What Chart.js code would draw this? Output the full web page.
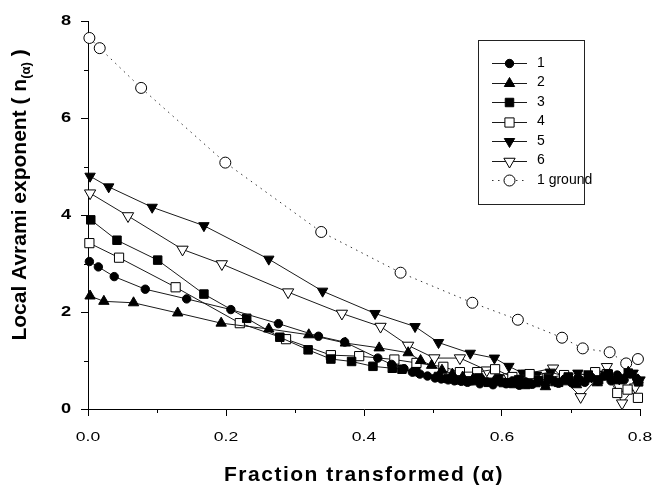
<!DOCTYPE html>
<html>
<head>
<meta charset="utf-8">
<script src="https://cdn.jsdelivr.net/npm/chart.js@4.4.1/dist/chart.umd.min.js"></script>
<style>
    html, body { margin: 0; padding: 0; background: #fff; }
    #wrap { width: 656px; height: 491px; }
</style>
</head>
<body>
<div id="wrap"><canvas id="myChart" width="656" height="491"></canvas></div>
<script>
// Series names (legend order)
const seriesNames = ["1", "2", "3", "4", "5", "6", "1 ground"];

// Fraction transformed (alpha) and local Avrami exponent n(alpha) per series
const alpha1 = [0.002, 0.015, 0.038, 0.083, 0.143, 0.207, 0.276, 0.334, 0.372, 0.420, 0.440, 0.458, 0.470, 0.481, 0.492, 0.503, 0.512, 0.522, 0.531, 0.541, 0.550, 0.559, 0.568, 0.578, 0.587, 0.596, 0.606, 0.615, 0.625, 0.634, 0.644, 0.653, 0.663, 0.672, 0.682, 0.691, 0.701, 0.710, 0.720, 0.729, 0.739, 0.748, 0.758, 0.767, 0.777, 0.786, 0.795];
const n1 = [3.04, 2.93, 2.73, 2.47, 2.27, 2.05, 1.76, 1.50, 1.38, 1.05, 0.92, 0.83, 0.76, 0.72, 0.68, 0.64, 0.62, 0.60, 0.58, 0.57, 0.55, 0.58, 0.52, 0.56, 0.50, 0.57, 0.52, 0.58, 0.49, 0.56, 0.51, 0.58, 0.50, 0.60, 0.53, 0.62, 0.54, 0.64, 0.55, 0.66, 0.57, 0.68, 0.58, 0.70, 0.60, 0.72, 0.63];

const alpha2 = [0.003, 0.023, 0.066, 0.130, 0.193, 0.262, 0.320, 0.373, 0.422, 0.464, 0.482, 0.498, 0.513, 0.528, 0.543, 0.558, 0.573, 0.588, 0.603, 0.618, 0.633, 0.648, 0.663, 0.678, 0.693, 0.708, 0.723, 0.738, 0.753, 0.768, 0.783, 0.797];
const n2 = [2.33, 2.22, 2.19, 1.98, 1.77, 1.65, 1.53, 1.36, 1.26, 1.16, 1.00, 0.90, 0.80, 0.72, 0.66, 0.62, 0.58, 0.56, 0.52, 0.50, 0.48, 0.52, 0.46, 0.54, 0.56, 0.50, 0.62, 0.54, 0.66, 0.58, 0.76, 0.60];

const alpha3 = [0.004, 0.042, 0.101, 0.168, 0.230, 0.278, 0.319, 0.352, 0.382, 0.413, 0.441, 0.455, 0.475, 0.508, 0.522, 0.537, 0.551, 0.566, 0.580, 0.595, 0.609, 0.624, 0.638, 0.653, 0.667, 0.682, 0.696, 0.711, 0.725, 0.740, 0.754, 0.769, 0.783, 0.798];
const n3 = [3.90, 3.48, 3.07, 2.37, 1.87, 1.48, 1.22, 1.03, 0.98, 0.88, 0.84, 0.82, 0.77, 0.67, 0.63, 0.60, 0.58, 0.64, 0.55, 0.62, 0.54, 0.60, 0.52, 0.58, 0.63, 0.55, 0.66, 0.58, 0.70, 0.60, 0.72, 0.62, 0.74, 0.56];

const alpha4 = [0.002, 0.045, 0.127, 0.220, 0.287, 0.352, 0.393, 0.444, 0.476, 0.515, 0.539, 0.564, 0.590, 0.615, 0.640, 0.665, 0.690, 0.715, 0.735, 0.752, 0.767, 0.782, 0.797];
const n4 = [3.42, 3.12, 2.51, 1.77, 1.44, 1.11, 1.09, 1.02, 0.95, 0.87, 0.76, 0.76, 0.82, 0.66, 0.72, 0.64, 0.70, 0.62, 0.76, 0.72, 0.33, 0.40, 0.23];

const alpha5 = [0.003, 0.030, 0.093, 0.168, 0.262, 0.340, 0.416, 0.474, 0.508, 0.554, 0.589, 0.610, 0.630, 0.650, 0.670, 0.690, 0.710, 0.730, 0.750, 0.770, 0.790, 0.800];
const n5 = [4.80, 4.58, 4.16, 3.78, 3.09, 2.43, 1.97, 1.70, 1.37, 1.15, 1.05, 0.88, 0.74, 0.70, 0.76, 0.68, 0.74, 0.66, 0.72, 0.62, 0.74, 0.60];

const alpha6 = [0.003, 0.058, 0.137, 0.194, 0.290, 0.368, 0.424, 0.464, 0.502, 0.539, 0.578, 0.610, 0.636, 0.674, 0.714, 0.752, 0.774, 0.793];
const n6 = [4.45, 3.98, 3.29, 2.99, 2.41, 1.97, 1.70, 1.31, 1.05, 1.05, 0.80, 0.66, 0.73, 0.84, 0.25, 0.87, 0.12, 0.45];

const alphaGround = [0.002, 0.017, 0.077, 0.199, 0.338, 0.453, 0.557, 0.623, 0.687, 0.717, 0.756, 0.780, 0.797];
const nGround = [7.65, 7.44, 6.62, 5.08, 3.65, 2.81, 2.19, 1.84, 1.47, 1.25, 1.17, 0.94, 1.03];

// Axis ranges and tick labels
const xRange = [0, 0.8];
const yRange = [0, 8];
const xTickLabels = ["0.0", "0.2", "0.4", "0.6", "0.8"];
const yTickLabels = ["0", "2", "4", "6", "8"];

// Marker look for each series
const markers = [
    { style: "circle",   radius: 4.2, rotation: 0,   fill: "#000", dash: [] },
    { style: "triangle", radius: 6,   rotation: 0,   fill: "#000", dash: [] },
    { style: "rect",     radius: 6,   rotation: 0,   fill: "#000", dash: [] },
    { style: "rect",     radius: 6.5, rotation: 0,   fill: "#fff", dash: [] },
    { style: "triangle", radius: 6,   rotation: 180, fill: "#000", dash: [] },
    { style: "triangle", radius: 6.5, rotation: 180, fill: "#fff", dash: [] },
    { style: "circle",   radius: 5.5, rotation: 0,   fill: "#fff", dash: [1.5, 4.5] }
];

const xs = [alpha1, alpha2, alpha3, alpha4, alpha5, alpha6, alphaGround];
const ys = [n1, n2, n3, n4, n5, n6, nGround];

function toPoints(a, b) {
    return a.map((x, i) => ({ x: x, y: b[i] }));
}

const datasets = seriesNames.map((name, i) => ({
    label: name,
    data: toPoints(xs[i], ys[i]),
    borderColor: i === 6 ? "#333" : "#1a1a1a",
    borderWidth: 1,
    borderDash: markers[i].dash,
    pointStyle: markers[i].style,
    pointRadius: markers[i].radius,
    pointRotation: markers[i].rotation,
    pointBackgroundColor: markers[i].fill,
    pointBorderColor: "#000",
    pointBorderWidth: 1,
    tension: 0,
    clip: false
}));

const isMajor = (v, step) => Math.abs(Math.round(v / step) * step - v) < 1e-6;

// Text drawn slightly wide, the way the figure's labels are set
function wideText(ctx, text, x, y, align, stretch) {
    ctx.save();
    ctx.translate(x, y);
    ctx.scale(stretch, 1);
    ctx.textAlign = align;
    ctx.fillText(text, 0, 0);
    ctx.restore();
}

// Minor ticks, tick labels, axis titles and the boxed legend
const decorations = {
    id: "decorations",
    afterDraw(chart) {
        const ctx = chart.ctx;
        const sx = chart.scales.x;
        const sy = chart.scales.y;
        const area = chart.chartArea;
        ctx.save();
        ctx.strokeStyle = "#000";
        ctx.lineWidth = 1;
        ctx.beginPath();
        sx.ticks.forEach(t => {
            if (!isMajor(t.value, 0.2)) {
                const px = Math.round(sx.getPixelForValue(t.value)) + 0.5;
                ctx.moveTo(px, area.bottom);
                ctx.lineTo(px, area.bottom + 4);
            }
        });
        sy.ticks.forEach(t => {
            if (!isMajor(t.value, 2)) {
                const py = Math.round(sy.getPixelForValue(t.value)) + 0.5;
                ctx.moveTo(area.left, py);
                ctx.lineTo(area.left - 4, py);
            }
        });
        ctx.stroke();

        // tick labels
        ctx.fillStyle = "#000";
        ctx.textBaseline = "middle";
        ctx.font = "13px 'Liberation Sans', Arial, sans-serif";
        sx.ticks.forEach(t => {
            if (isMajor(t.value, 0.2)) {
                wideText(ctx, xTickLabels[Math.round(t.value / 0.2)], sx.getPixelForValue(t.value), 437, "center", 1.35);
            }
        });
        ctx.font = "bold 14px 'Liberation Sans', Arial, sans-serif";
        sy.ticks.forEach(t => {
            if (isMajor(t.value, 2)) {
                wideText(ctx, yTickLabels[Math.round(t.value / 2)], 71, sy.getPixelForValue(t.value), "right", 1.3);
            }
        });

        // x title
        ctx.font = "bold 21px 'Liberation Sans', Arial, sans-serif";
        ctx.textAlign = "center";
        ctx.letterSpacing = "1.5px";
        ctx.fillText("Fraction transformed (\u03b1)", (area.left + area.right) / 2, 475);
        ctx.letterSpacing = "0px";

        // y title with subscript
        const mainFont = "bold 21px 'Liberation Sans', Arial, sans-serif";
        const subFont = "bold 13px 'Liberation Sans', Arial, sans-serif";
        const partA = "Local Avrami exponent ( n";
        const partB = "(\u03b1)";
        const partC = " )";
        ctx.font = mainFont;
        const wA = ctx.measureText(partA).width;
        const wC = ctx.measureText(partC).width;
        ctx.font = subFont;
        const wB = ctx.measureText(partB).width;
        const total = wA + wB + wC;
        ctx.translate(20, 195);
        ctx.rotate(-Math.PI / 2);
        ctx.textAlign = "left";
        let pos = -total / 2;
        ctx.font = mainFont;
        ctx.fillText(partA, pos, 0);
        pos += wA;
        ctx.font = subFont;
        ctx.fillText(partB, pos, 6);
        pos += wB;
        ctx.font = mainFont;
        ctx.fillText(partC, pos, 0);
        ctx.restore();

        // legend box
        ctx.save();
        ctx.strokeStyle = "#222";
        ctx.lineWidth = 1;
        ctx.strokeRect(478.5, 40.5, 106, 164);
        ctx.font = "14px 'Liberation Sans', Arial, sans-serif";
        ctx.textBaseline = "middle";
        ctx.textAlign = "left";
        chart.data.datasets.forEach((ds, i) => {
            const y = 63 + i * 19.5;
            ctx.strokeStyle = ds.borderColor;
            ctx.setLineDash(ds.borderDash);
            ctx.beginPath();
            ctx.moveTo(492, Math.round(y) + 0.5);
            ctx.lineTo(527, Math.round(y) + 0.5);
            ctx.stroke();
            ctx.setLineDash([]);
            ctx.fillStyle = ds.pointBackgroundColor;
            ctx.strokeStyle = "#000";
            Chart.helpers.drawPoint(ctx, {
                pointStyle: ds.pointStyle,
                radius: ds.pointRadius,
                rotation: ds.pointRotation,
                borderWidth: 1
            }, 509.5, Math.round(y) + 0.5);
            ctx.fillStyle = "#000";
            ctx.fillText(ds.label, 537, y);
        });
        ctx.restore();
    }
};

new Chart(document.getElementById("myChart"), {
    type: "line",
    data: { datasets: datasets },
    plugins: [decorations],
    options: {
        responsive: false,
        animation: false,
        devicePixelRatio: 1,
        layout: { padding: { top: 21, right: 16, left: 0, bottom: 0 } },
        plugins: { legend: { display: false }, tooltip: { enabled: false } },
        scales: {
            x: {
                type: "linear",
                min: xRange[0],
                max: xRange[1],
                afterFit: s => { s.height = 82; },
                border: { display: true, color: "#000", width: 1 },
                grid: {
                    drawOnChartArea: false,
                    drawTicks: true,
                    tickLength: 7,
                    tickColor: c => isMajor(c.tick.value, 0.2) ? "#000" : "rgba(0,0,0,0)"
                },
                ticks: { stepSize: 0.1, autoSkip: false, maxRotation: 0, callback: () => "" }
            },
            y: {
                type: "linear",
                min: yRange[0],
                max: yRange[1],
                afterFit: s => { s.width = 88; },
                border: { display: true, color: "#000", width: 1 },
                grid: {
                    drawOnChartArea: false,
                    drawTicks: true,
                    tickLength: 7,
                    tickColor: c => isMajor(c.tick.value, 2) ? "#000" : "rgba(0,0,0,0)"
                },
                ticks: { stepSize: 1, autoSkip: false, callback: () => "" }
            }
        }
    }
});
</script>
</body>
</html>
